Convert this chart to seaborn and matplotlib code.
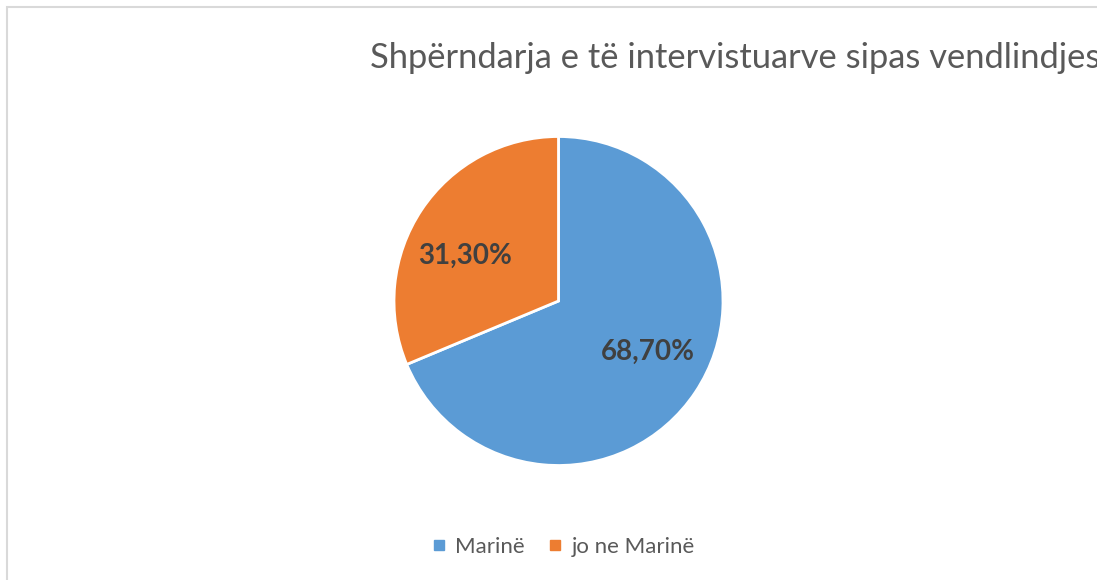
import matplotlib
matplotlib.use("Agg")
import matplotlib.pyplot as plt
from matplotlib.patches import Rectangle
from matplotlib.lines import Line2D
import seaborn as sns

# data
categories = ["Marinë", "jo ne Marinë"]
values = [68.70, 31.30]
value_labels = ["68,70%", "31,30%"]
colors = ["#5B9BD5", "#ED7D31"]
title = "Shpërndarja e të intervistuarve sipas vendlindjes"

sns.set_theme(style="white")
plt.rcParams['font.family'] = ['Lato', 'DejaVu Sans']

W, H = 1097, 580
fig = plt.figure(figsize=(W / 100, H / 100), dpi=100)

# pie axes: centre (558, 301), radius 165 px
cx, cy, r = 558.5, 301, 164.5
ax = fig.add_axes([(cx - r) / W, 1 - (cy + r) / H, 2 * r / W, 2 * r / H])
wedges, _ = ax.pie(values, colors=colors, startangle=90, counterclock=False,
                   wedgeprops=dict(edgecolor="white", linewidth=2))
ax.set_xlim(-1, 1)
ax.set_ylim(-1, 1)
ax.axis("off")

# value labels (Excel best-fit positions)
label_pos = [(0.542, -0.312), (-0.567, 0.273)]
for (x, y), txt in zip(label_pos, value_labels):
    ax.text(x, y, txt, ha="center", va="center", fontsize=20,
            fontweight="bold", color="#404040")

# title, clipped at right edge like the original
fig.text(370 / W, 1 - 58 / H, title, ha="left", va="center",
         fontsize=24.8, color="#595959")

# legend
handles = [Line2D([0], [0], marker="s", linestyle="", markersize=7,
                  markerfacecolor=c, markeredgecolor=c) for c in colors]
fig.legend(handles, categories, loc="center", ncol=2, frameon=False,
           bbox_to_anchor=(564 / W, 1 - 547 / H), fontsize=16,
           labelcolor="#595959", handlelength=0.5, handletextpad=0.5,
           columnspacing=1.1)

# chart border (cut at right/bottom)
fig.patches.append(Rectangle((7 / W, -0.1), 1.2, (H - 7) / H + 0.1,
                             transform=fig.transFigure, fill=False,
                             edgecolor="#D9D9D9", linewidth=1.5))

fig.savefig("out.png", dpi=100)
